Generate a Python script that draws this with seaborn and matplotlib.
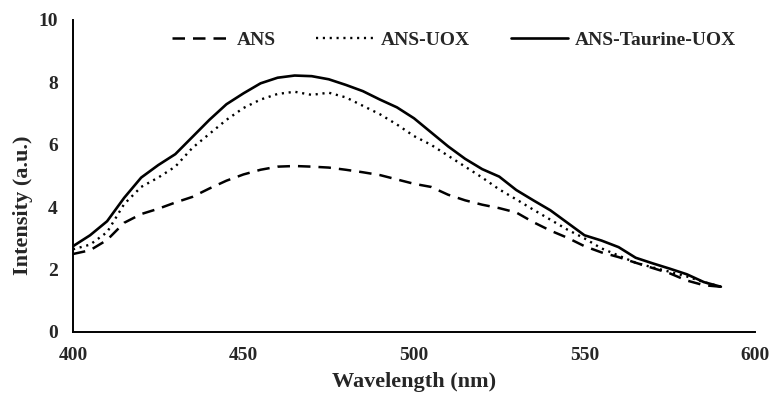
import matplotlib
matplotlib.use("Agg")
import matplotlib.pyplot as plt
import seaborn as sns
import pandas as pd

# Emission wavelengths (nm)
wavelength = [400, 405, 410, 415, 420, 425, 430, 435, 440, 445, 450, 455, 460,
              465, 470, 475, 480, 485, 490, 495, 500, 505, 510, 515, 520, 525,
              530, 535, 540, 545, 550, 555, 560, 565, 570, 575, 580, 585, 590]

# Fluorescence intensity (a.u.) for each sample
ans = [2.50, 2.62, 2.95, 3.50, 3.78, 3.95, 4.15, 4.33, 4.60, 4.85, 5.05, 5.20, 5.30,
       5.32, 5.30, 5.27, 5.20, 5.12, 5.03, 4.89, 4.75, 4.65, 4.40, 4.22, 4.08, 3.97,
       3.83, 3.52, 3.25, 3.02, 2.75, 2.55, 2.40, 2.22, 2.05, 1.88, 1.65, 1.50, 1.45]
ans_uox = [2.65, 2.80, 3.20, 4.10, 4.65, 4.95, 5.30, 5.90, 6.35, 6.80, 7.18, 7.45, 7.63,
           7.70, 7.60, 7.67, 7.52, 7.25, 6.98, 6.65, 6.28, 6.00, 5.65, 5.30, 4.95, 4.57,
           4.25, 3.92, 3.60, 3.28, 3.00, 2.68, 2.45, 2.22, 2.07, 1.93, 1.78, 1.60, 1.45]
ans_taurine_uox = [2.75, 3.10, 3.55, 4.30, 4.95, 5.35, 5.70, 6.25, 6.80, 7.30, 7.65, 7.97, 8.15,
                   8.22, 8.20, 8.10, 7.92, 7.72, 7.45, 7.20, 6.85, 6.40, 5.95, 5.55, 5.22, 4.98,
                   4.55, 4.22, 3.90, 3.50, 3.10, 2.93, 2.72, 2.38, 2.20, 2.03, 1.85, 1.60, 1.45]

series_names = ["ANS", "ANS-UOX", "ANS-Taurine-UOX"]
series_values = [ans, ans_uox, ans_taurine_uox]

df = pd.concat(
    [pd.DataFrame({"Wavelength": wavelength, "Intensity": vals, "Sample": name})
     for name, vals in zip(series_names, series_values)],
    ignore_index=True,
)

sns.set_style("white")
plt.rcParams["font.family"] = ["Liberation Serif", "DejaVu Serif"]
plt.rcParams["font.weight"] = "bold"

fig = plt.figure(figsize=(7.71, 3.94), dpi=100)
ax = fig.add_axes([73 / 771, 62 / 394, 682 / 771, 312 / 394])

styles = {
    "ANS": dict(linestyle=(0, (5.0, 3.2)), linewidth=1.8),
    "ANS-UOX": dict(linestyle=(0, (0.9, 2.0)), linewidth=1.7),
    "ANS-Taurine-UOX": dict(linestyle="-", linewidth=1.9),
}

for name in series_names:
    sub = df[df["Sample"] == name]
    sns.lineplot(data=sub, x="Wavelength", y="Intensity", ax=ax, color="black",
                 label=name, **styles[name])

ax.set_xlim(400, 600)
ax.set_ylim(0, 10)
ax.set_xticks([400, 450, 500, 550, 600])
ax.set_yticks([0, 2, 4, 6, 8, 10])
ax.tick_params(axis="both", length=0, labelsize=14)
ax.tick_params(axis="x", pad=11)
ax.tick_params(axis="y", pad=11)
for lab in ax.get_xticklabels() + ax.get_yticklabels():
    lab.set_fontweight("bold")

ax.set_xlabel("Wavelength (nm)", fontsize=16, fontweight="bold")
ax.set_ylabel("Intensity (a.u.)", fontsize=16, fontweight="bold")
ax.xaxis.set_label_coords(0.5, (332 - 372) / 312)
ax.yaxis.set_label_coords((33 - 73) / 682, (332 - 205) / 312)

for side in ["top", "right"]:
    ax.spines[side].set_visible(False)
for side in ["left", "bottom"]:
    ax.spines[side].set_color("black")
    ax.spines[side].set_linewidth(1.4)

leg = ax.legend(loc="center left", bbox_to_anchor=(172 / 771, 1 - 40 / 394),
                bbox_transform=fig.transFigure, ncol=3, frameon=False,
                borderpad=0, borderaxespad=0,
                handlelength=2.95, handletextpad=0.36, columnspacing=2.1,
                prop={"weight": "bold", "size": 14})

fig.savefig("out.png", dpi=100)
